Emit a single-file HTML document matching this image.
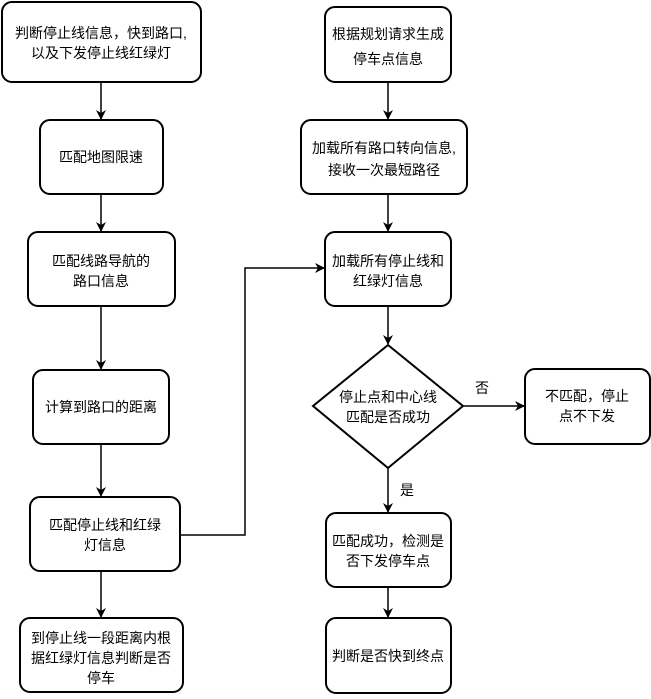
<!DOCTYPE html>
<html><head><meta charset="utf-8"><style>
body{margin:0;background:#fff;}
svg text{font-family:"Liberation Sans","Noto Sans CJK SC",sans-serif;font-size:14px;fill:#000;}
</style></head><body>
<svg width="651" height="694" viewBox="0 0 651 694" xmlns="http://www.w3.org/2000/svg">
<defs><marker id="a" markerWidth="10" markerHeight="10" refX="9" refY="5" orient="auto" markerUnits="userSpaceOnUse"><path d="M0,0 L10,5 L0,10 L3,5 z" fill="#000"/></marker></defs>
<g fill="#fff" stroke="#000" stroke-width="2">
<rect x="2" y="2" width="199" height="80" rx="10"/>
<rect x="40" y="120" width="123" height="74" rx="10"/>
<rect x="28" y="232" width="147" height="74" rx="10"/>
<rect x="33" y="370" width="136" height="74" rx="10"/>
<rect x="30" y="497" width="150" height="74" rx="10"/>
<rect x="20" y="618" width="163" height="74" rx="10"/>
<rect x="325" y="7" width="126" height="75" rx="10"/>
<rect x="301" y="120" width="166" height="74" rx="10"/>
<rect x="325" y="232" width="126" height="74" rx="10"/>
<polygon points="388,345 463,406 388,468 313,406"/>
<rect x="525" y="369" width="125" height="75" rx="10"/>
<rect x="326" y="513" width="125" height="74" rx="10"/>
<rect x="326" y="618" width="125" height="75" rx="10"/>
</g>
<g stroke="#000" stroke-width="1.5" fill="none" marker-end="url(#a)">
<line x1="101" y1="82" x2="101" y2="119"/>
<line x1="101" y1="194" x2="101" y2="231"/>
<line x1="101" y1="306" x2="101" y2="369"/>
<line x1="101" y1="444" x2="101" y2="496"/>
<line x1="101" y1="571" x2="101" y2="617"/>
<polyline points="180,535 245,535 245,268 324,268"/>
<line x1="388" y1="82" x2="388" y2="119"/>
<line x1="388" y1="194" x2="388" y2="231"/>
<line x1="388" y1="306" x2="388" y2="344"/>
<line x1="388" y1="468" x2="388" y2="512"/>
<line x1="463" y1="406" x2="524" y2="406"/>
<line x1="388" y1="587" x2="388" y2="617"/>
</g>
<g text-anchor="middle">
<text x="101" y="38">判断停止线信息，快到路口,</text>
<text x="101" y="58">以及下发停止线红绿灯</text>
<text x="101" y="162">匹配地图限速</text>
<text x="101" y="266">匹配线路导航的</text>
<text x="101" y="286">路口信息</text>
<text x="101" y="412">计算到路口的距离</text>
<text x="105" y="530">匹配停止线和红绿</text>
<text x="105" y="550">灯信息</text>
<text x="101" y="643">到停止线一段距离内根</text>
<text x="101" y="663">据红绿灯信息判断是否</text>
<text x="101" y="683">停车</text>
<text x="388" y="39">根据规划请求生成</text>
<text x="388" y="64">停车点信息</text>
<text x="384" y="153">加载所有路口转向信息,</text>
<text x="384" y="175">接收一次最短路径</text>
<text x="388" y="266">加载所有停止线和</text>
<text x="388" y="286">红绿灯信息</text>
<text x="388" y="402">停止点和中心线</text>
<text x="388" y="422">匹配是否成功</text>
<text x="587" y="401">不匹配，停止</text>
<text x="587" y="421">点不下发</text>
<text x="388" y="546">匹配成功，检测是</text>
<text x="388" y="566">否下发停车点</text>
<text x="388" y="661">判断是否快到终点</text>
<text x="482" y="393">否</text>
<text x="407" y="495">是</text>
</g>
</svg>
</body></html>
